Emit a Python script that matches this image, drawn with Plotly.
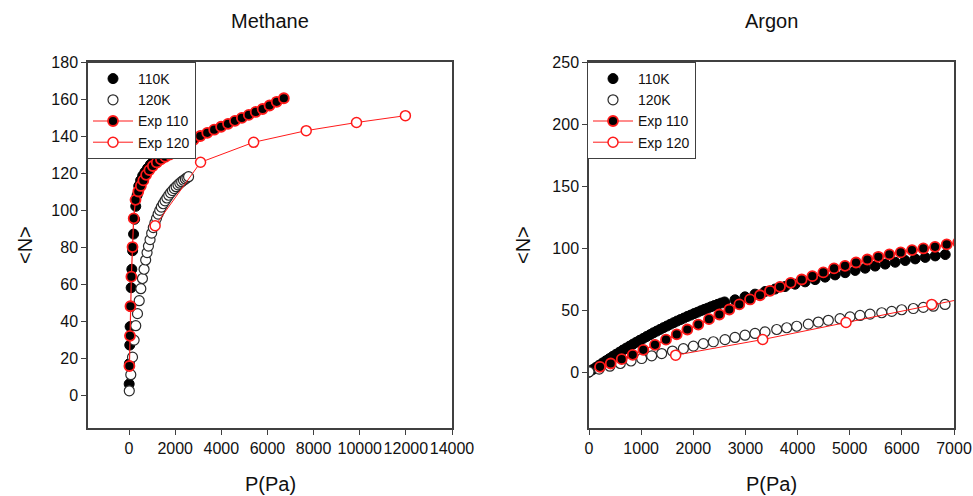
import plotly.graph_objects as go

# ---------------- Methane data ----------------
meth_110_P = [5, 15, 30, 45, 65, 90, 120, 155, 195, 240, 290, 350, 420, 500, 590, 690, 800, 920,
              1050, 1190, 1340, 1500, 1670, 1850, 2040, 2240, 2450]
meth_110_N = [6, 17, 27, 37, 48, 58, 68, 78, 87, 95, 102, 108, 113, 116, 118.5, 120.5, 122.5, 124.5,
              126.3, 128, 129.5, 131, 132.3, 133.5, 134.8, 136, 137.2]

meth_120_P = [10, 75, 150, 220, 290, 365, 440, 510, 580, 650, 720, 780, 840, 910, 980, 1050, 1120,
              1190, 1260, 1330, 1400, 1480, 1560, 1640, 1720, 1800, 1880, 1960, 2040, 2120, 2200,
              2280, 2360, 2440, 2510, 2580]
meth_120_N = [2.3, 11, 20.5, 29.7, 37.5, 44, 51, 57.5, 63, 68, 73, 77, 80.5, 84, 87.5, 90.5, 93,
              95.5, 97.8, 99.8, 101.6, 103.4, 105, 106.5, 108, 109.3, 110.5, 111.6, 112.6, 113.6,
              114.5, 115.3, 116.1, 116.8, 117.4, 118]

meth_exp110_P = [15, 40, 60, 100, 150, 200, 280, 400, 510, 620, 740, 880, 1030, 1200, 1380, 1570,
                 1760, 1980, 2240, 2520, 2800, 3090, 3390, 3690, 3990, 4290, 4590, 4890, 5190, 5490,
                 5790, 6090, 6400, 6710]
meth_exp110_N = [15.7, 32, 48, 64, 80, 95.5, 105.5, 110, 113, 116, 119, 121.6, 123.8, 125.7, 127.4,
                 128.8, 130, 132, 134, 136, 138, 140, 141.7, 143.4, 145, 146.6, 148.2, 149.8, 151.4,
                 153, 154.6, 156.5, 158.5, 160.4]

meth_exp120_P = [1130, 3100, 5400, 7680, 9860, 11980]
meth_exp120_N = [91.5, 125.8, 136.6, 142.9, 147.3, 151]

# ---------------- Argon data ----------------
arg_110_P = [0, 65, 130, 195, 260, 325, 390, 455, 520, 585, 650, 715, 780, 845, 910, 975, 1040,
             1105, 1170, 1235, 1300, 1365, 1430, 1495, 1560, 1625, 1690, 1755, 1820, 1885, 1950,
             2015, 2080, 2145, 2210, 2275, 2340, 2405, 2470, 2535, 2600,
             2800, 2992, 3184, 3376, 3568, 3760, 3952, 4144, 4336, 4528, 4720, 4912, 5104, 5296,
             5488, 5680, 5872, 6064, 6256, 6448, 6640, 6832]
arg_110_N = [0, 1.9, 3.7, 5.6, 7.4, 9.2, 10.9, 12.7, 14.4, 16.1, 17.8, 19.4, 21.0, 22.6, 24.2, 25.7,
             27.2, 28.7, 30.2, 31.7, 33.1, 34.5, 35.9, 37.2, 38.6, 39.9, 41.2, 42.4, 43.6, 44.9,
             46.0, 47.2, 48.3, 49.5, 50.6, 51.6, 52.7, 53.7, 54.7, 55.7, 56.6,
             58.3, 60.7, 62.9, 65.0, 67.0, 69.0, 70.9, 72.8, 74.6, 76.6, 78.4, 80.2, 82.0, 83.8,
             85.5, 87.1, 88.6, 90.0, 91.3, 92.5, 93.7, 94.8]

arg_120_P = [0, 195, 400, 600, 805, 1010, 1202, 1394, 1600, 1810, 2002, 2193, 2385, 2608, 2800,
             2992, 3184, 3376, 3600, 3792, 3983, 4206, 4398, 4590, 4814, 5006, 5198, 5390, 5614,
             5806, 5997, 6220, 6412, 6604, 6828]
arg_120_N = [0.3, 2.5, 4.8, 7, 9, 11, 13.2, 15, 17, 19, 21, 23, 24.5, 26.2, 28, 29.8, 31.2, 32.5,
             34.4, 35.8, 37, 38.7, 40.4, 41.8, 43.1, 44.5, 45.7, 46.8, 47.9, 49, 50.3, 51.3, 52.2,
             53.2, 54.6]

arg_exp110_P = [211, 416, 627, 838, 1042, 1266, 1477, 1682, 1886, 2096, 2301, 2500, 2691, 2883,
                3088, 3280, 3471, 3663, 3868, 4079, 4283, 4494, 4699, 4910, 5121, 5338, 5549, 5760,
                5978, 6195, 6412, 6636, 6860, 7080]
arg_exp110_N = [4.3, 7, 10.5, 14, 18, 22, 26.2, 30.4, 34.4, 38.4, 42.7, 46.5, 50.5, 54.6, 58.6, 62,
                65.6, 68.8, 72, 74.7, 77.4, 80.4, 83.6, 85.7, 88.4, 90.8, 93, 94.9, 96.5, 98.4,
                99.7, 101, 103, 104.5]

arg_exp120_P = [1662, 3331, 4929, 6572, 8200]
arg_exp120_N = [13.7, 26.3, 40, 54.6, 68]

# ---------------- ticks ----------------
meth_xticks = [0, 2000, 4000, 6000, 8000, 10000, 12000, 14000]
meth_xlabels = ["0", "2000", "4000", "6000", "8000", "10000", "12000", "14000"]
meth_yticks = [0, 20, 40, 60, 80, 100, 120, 140, 160, 180]
arg_xticks = [0, 1000, 2000, 3000, 4000, 5000, 6000, 7000]
arg_xlabels = ["0", "1000", "2000", "3000", "4000", "5000", "6000", "7000"]
arg_yticks = [0, 50, 100, 150, 200, 250]

FONT = "Arial, Liberation Sans, sans-serif"
RED = "#ff1a1a"
MS = 10

fig = go.Figure()


def add_panel(xa, ya, leg, p110, n110, p120, n120, pe110, ne110, pe120, ne120):
    fig.add_trace(go.Scatter(x=p110, y=n110, mode="markers", name="110K", xaxis=xa, yaxis=ya,
                             legend=leg, showlegend=True,
                             marker=dict(size=MS, color="black", line=dict(color="black", width=1))))
    fig.add_trace(go.Scatter(x=p120, y=n120, mode="markers", name="120K", xaxis=xa, yaxis=ya,
                             legend=leg, showlegend=True,
                             marker=dict(size=MS, color="white", line=dict(color="#2a2a2a", width=1.2))))
    fig.add_trace(go.Scatter(x=pe110, y=ne110, mode="lines+markers", name="Exp 110", xaxis=xa,
                             yaxis=ya, legend=leg, showlegend=True, line=dict(color=RED, width=1.2),
                             marker=dict(size=MS, color="black", line=dict(color=RED, width=1.8))))
    fig.add_trace(go.Scatter(x=pe120, y=ne120, mode="lines+markers", name="Exp 120", xaxis=xa,
                             yaxis=ya, legend=leg, showlegend=True, line=dict(color=RED, width=1),
                             marker=dict(size=MS, color="white", line=dict(color=RED, width=1.5))))


add_panel("x", "y", "legend", meth_110_P, meth_110_N, meth_120_P, meth_120_N,
          meth_exp110_P, meth_exp110_N, meth_exp120_P, meth_exp120_N)
add_panel("x2", "y2", "legend2", arg_110_P, arg_110_N, arg_120_P, arg_120_N,
          arg_exp110_P, arg_exp110_N, arg_exp120_P, arg_exp120_N)

W, H = 973, 496
AXC = "#404040"
ax_common = dict(showgrid=False, zeroline=False, showline=True, linecolor=AXC, linewidth=1.5,
                 mirror=True, ticks="outside", ticklen=5, tickcolor=AXC, tickwidth=1.2,
                 automargin=False, tickangle=0,
                 tickfont=dict(family=FONT, size=16, color="#111"))

y_dom = [1 - 428 / H, 1 - 62 / H]
leg_common = dict(xanchor="left", yanchor="top", bgcolor="white", bordercolor=AXC, borderwidth=1,
                  font=dict(family=FONT, size=14, color="#111"), itemwidth=40, tracegroupgap=0)

fig.update_layout(
    width=W, height=H, autosize=False,
    margin=dict(l=0, r=0, t=0, b=0, autoexpand=False),
    paper_bgcolor="white", plot_bgcolor="white",
    font=dict(family=FONT, color="#111"),
    xaxis=dict(domain=[88 / W, 452 / W], range=[-1780, 14000], tickvals=meth_xticks,
               ticktext=meth_xlabels, anchor="y", **ax_common),
    yaxis=dict(domain=y_dom, range=[-17.8, 180], tickvals=meth_yticks, anchor="x", **ax_common),
    xaxis2=dict(domain=[589 / W, 954 / W], range=[0, 7000], tickvals=arg_xticks,
                ticktext=arg_xlabels, anchor="y2", **ax_common),
    yaxis2=dict(domain=y_dom, range=[-45, 250], tickvals=arg_yticks, anchor="x2", **ax_common),
    legend=dict(x=87 / W, y=1 - 62 / H, **leg_common),
    legend2=dict(x=587 / W, y=1 - 62 / H, **leg_common),
    showlegend=True,
)

ann = []
for xc, title in [(270, "Methane"), (771.5, "Argon")]:
    ann.append(dict(text=title, x=xc / W, y=1 - 21 / H, xref="paper", yref="paper",
                    showarrow=False, font=dict(family=FONT, size=20, color="#111"),
                    xanchor="center", yanchor="middle"))
    ann.append(dict(text="P(Pa)", x=xc / W, y=1 - 484 / H, xref="paper", yref="paper",
                    showarrow=False, font=dict(family=FONT, size=20, color="#111"),
                    xanchor="center", yanchor="middle"))
for xc in [25, 523]:
    ann.append(dict(text="&lt;N&gt;", x=xc / W, y=1 - 245 / H, xref="paper", yref="paper",
                    showarrow=False, textangle=-90, font=dict(family=FONT, size=20, color="#111"),
                    xanchor="center", yanchor="middle"))
fig.update_layout(annotations=ann)

fig.write_html("out.html", config={"displayModeBar": False},
               post_script="document.body.style.margin='0';document.body.style.overflow='hidden';")
